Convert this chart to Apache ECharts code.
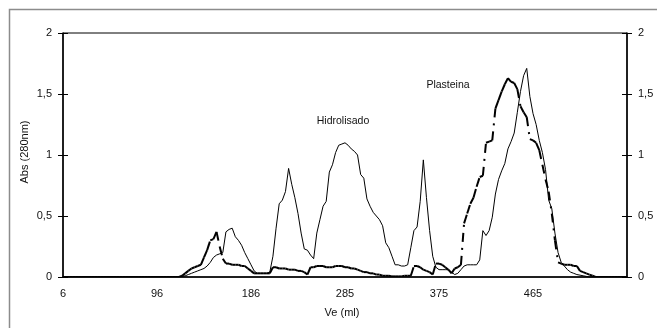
<!DOCTYPE html>
<html>
<head>
<meta charset="utf-8">
<script src="https://cdn.jsdelivr.net/npm/echarts@6/dist/echarts.min.js"></script>
<style>
html,body{margin:0;padding:0;background:#fff;}
#chart{width:657px;height:328px;}
</style>
</head>
<body>
<div id="chart"></div>
<script>
// ---- data ----
const xTickLabels = ['6', '96', '186', '285', '375', '465'];
const labelStep = 30;
const categoryCount = 181;
const yTicks = ['0', '0,5', '1', '1,5', '2'];

// Hidrolisado (thin solid line), index 0..179
const hidrolisado = [
  0,0,0,0,0,0,0,0,0,0, 0,0,0,0,0,0,0,0,0,0,
  0,0,0,0,0,0,0,0,0,0, 0,0,0,0,0,0,0,0,
  0.005,0.01,0.02,0.03,0.04,0.05,0.06,0.07,0.09,0.12,
  0.16,0.18,0.19,0.20,0.37,0.39,0.40,0.33,0.30,0.26,
  0.20,0.15,0.10,0.05,0.03,0.03,0.03,0.03,0.04,0.17,
  0.40,0.60,0.63,0.70,0.89,0.76,0.65,0.52,0.36,0.23,
  0.22,0.18,0.15,0.36,0.47,0.58,0.62,0.86,0.92,1.02,
  1.08,1.09,1.10,1.08,1.05,1.03,1.00,0.84,0.81,0.64,
  0.58,0.53,0.50,0.47,0.42,0.28,0.24,0.17,0.10,0.10,
  0.09,0.09,0.10,0.24,0.38,0.41,0.62,0.96,0.65,0.38,
  0.17,0.08,0.06,0.06,0.06,0.06,0.04,0.02,0.03,0.06,
  0.09,0.10,0.10,0.10,0.10,0.14,0.38,0.34,0.38,0.49,
  0.68,0.80,0.87,0.93,1.05,1.11,1.18,1.35,1.52,1.65,
  1.71,1.48,1.34,1.25,1.12,1.02,0.88,0.63,0.56,0.36,
  0.20,0.12,0.09,0.06,0.04,0.03,0.02,0.015,0.01,0.005,
  0,0,0,0,0,0,0,0,0,0,
  0,0
];

// Plasteina (thick dash-dot line), index 0..179
const plasteina = [
  0,0,0,0,0,0,0,0,0,0, 0,0,0,0,0,0,0,0,0,0,
  0,0,0,0,0,0,0,0,0,0, 0,0,0,0,0,0,0,0,
  0.01,0.03,0.05,0.07,0.08,0.09,0.10,0.16,0.22,0.30,
  0.31,0.37,0.25,0.15,0.11,0.11,0.10,0.10,0.10,0.09,
  0.09,0.07,0.05,0.03,0.03,0.03,0.03,0.03,0.03,0.08,
  0.08,0.07,0.07,0.07,0.06,0.06,0.06,0.05,0.05,0.04,
  0.02,0.08,0.08,0.09,0.09,0.09,0.08,0.08,0.08,0.09,
  0.09,0.09,0.08,0.08,0.07,0.07,0.06,0.05,0.04,0.04,
  0.03,0.03,0.02,0.02,0.01,0.01,0.01,0.005,0.005,0.005,
  0.005,0.01,0.01,0.01,0.09,0.09,0.08,0.06,0.05,0.04,
  0.02,0.11,0.11,0.10,0.08,0.06,0.03,0.07,0.08,0.10,
  0.44,0.52,0.60,0.65,0.74,0.82,0.83,1.10,1.11,1.12,
  1.38,1.45,1.52,1.58,1.63,1.60,1.59,1.54,1.40,1.35,
  1.31,1.13,1.12,1.10,1.04,0.92,0.80,0.70,0.52,0.30,
  0.12,0.11,0.10,0.10,0.10,0.09,0.09,0.05,0.04,0.03,
  0.02,0.01,0,0,0,0,0,0,0,0,
  0,0,0,0,0,0,0,0,0,0,
  0,0
];

// ---- chart ----
const FONT = "'Liberation Sans', Arial, sans-serif";
const categories = Array.from({length: categoryCount}, (_, i) => String(i));
const plasteinaSegments = [];
for (let i = 0; i < plasteina.length - 1; i++) {
  plasteinaSegments.push([i, plasteina[i], plasteina[i + 1]]);
}
const yFmt = v => yTicks[Math.round(v * 2)] ?? '';

function yAxisDef(position, withLabel, tickInside) {
  return {
    type: 'value', position: position, min: 0, max: 2, interval: 0.5,
    axisLine: {show: withLabel, lineStyle: {color: '#000', width: 1.5}},
    axisTick: {show: true, inside: tickInside, length: 5, lineStyle: {color: '#000', width: 1}},
    axisLabel: {show: withLabel, formatter: yFmt, margin: 11, color: '#111', fontFamily: FONT, fontSize: 11},
    splitLine: {show: false}
  };
}

const chart = echarts.init(document.getElementById('chart'), null, {renderer: 'canvas'});
chart.setOption({
  animation: false,
  backgroundColor: '#fff',
  grid: {left: 63, right: 30, top: 33, bottom: 51, show: true, borderColor: '#000', borderWidth: 1, backgroundColor: 'transparent'},
  xAxis: {
    type: 'category', data: categories, boundaryGap: false,
    axisLine: {lineStyle: {color: '#000', width: 1.5}},
    axisTick: {show: false},
    axisLabel: {
      interval: labelStep - 1, margin: 11, color: '#111', fontFamily: FONT, fontSize: 11,
      formatter: (v, idx) => (idx % labelStep === 0 ? (xTickLabels[idx / labelStep] ?? '') : '')
    },
    splitLine: {show: false}
  },
  yAxis: [
    yAxisDef('left', true, false),
    yAxisDef('left', false, true),
    yAxisDef('right', true, false),
    yAxisDef('right', false, true)
  ],
  series: [
    {
      name: 'Hidrolisado', type: 'line', data: hidrolisado, yAxisIndex: 0,
      showSymbol: false, symbol: 'none',
      lineStyle: {color: '#000', width: 1}, z: 3
    },
    {
      name: 'Plasteina', type: 'custom', data: plasteinaSegments, yAxisIndex: 0,
      encode: {x: 0, y: [1, 2]},
      clip: true,
      renderItem: function (params, api) {
        const i = api.value(0);
        const p0 = api.coord([i, api.value(1)]);
        const p1 = api.coord([i + 1, api.value(2)]);
        return {
          type: 'line',
          shape: {x1: p0[0], y1: p0[1], x2: p1[0], y2: p1[1]},
          style: {stroke: '#000', lineWidth: 2, lineDash: [9, 6, 2, 6], lineCap: 'butt'}
        };
      },
      z: 4
    }
  ],
  graphic: [
    {type: 'rect', shape: {x: 9.5, y: 9.5, width: 700, height: 400}, style: {fill: 'none', stroke: '#8c8c8c', lineWidth: 1.5}, silent: true},
    {type: 'text', x: 25, y: 152, rotation: Math.PI / 2, style: {text: 'Abs (280nm)', font: "11px " + FONT, fill: '#111', textAlign: 'center', textVerticalAlign: 'middle'}},
    {type: 'text', x: 342, y: 313, style: {text: 'Ve (ml)', font: "11px " + FONT, fill: '#111', textAlign: 'center', textVerticalAlign: 'middle'}},
    {type: 'text', x: 343, y: 121, style: {text: 'Hidrolisado', font: "10.5px " + FONT, fill: '#111', textAlign: 'center', textVerticalAlign: 'middle'}},
    {type: 'text', x: 448, y: 85, style: {text: 'Plasteina', font: "10.5px " + FONT, fill: '#111', textAlign: 'center', textVerticalAlign: 'middle'}}
  ]
});
</script>
</body>
</html>
